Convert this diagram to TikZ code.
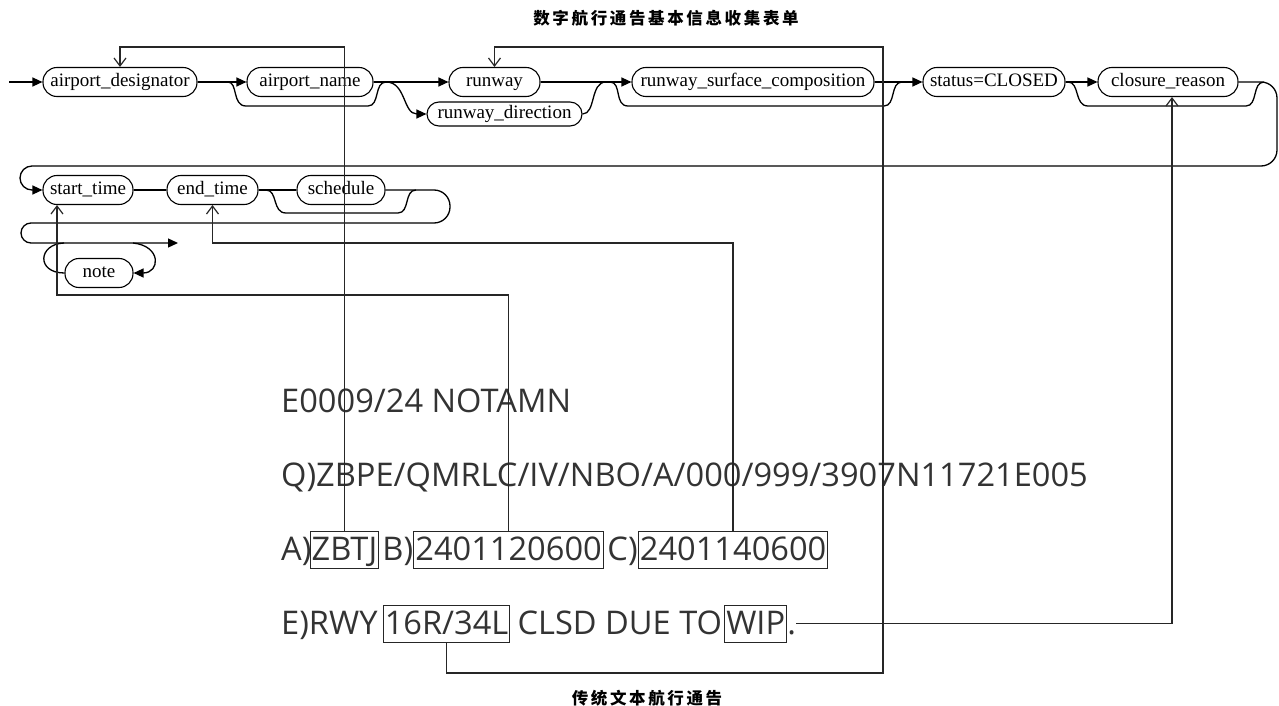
\documentclass[tikz,border=0pt]{standalone}
\usepackage{fontspec}
\setmainfont{Liberation Serif}
\newfontfamily\notamfont{Open Sans}
\newfontfamily\cjk[LetterSpace=16]{Noto Sans CJK SC}
\usetikzlibrary{arrows.meta,positioning,calc}

\tikzset{
  term/.style={draw, line width=1.1pt, rounded corners=14pt, minimum height=29pt,
    inner sep=0pt, font=\fontsize{19}{21}\selectfont, text height=13pt, text depth=4pt},
  rail/.style={line width=1.3pt},
  go/.style={rail, -{Triangle[length=10pt,width=9pt]}},
  link/.style={line width=1.2pt, draw=black!85, -{Straight Barb[length=8pt,width=12pt]}},
  notam/.style={inner sep=0pt, font=\notamfont\fontsize{32.6}{36}\selectfont, text=black!80,
    text height=29pt, text depth=8pt},
  hit/.style={notam, draw=black!85, line width=1pt, inner xsep=1.5pt},
  title/.style={font=\cjk\bfseries\fontsize{16.5}{17}\selectfont},
}

\begin{document}
\begin{tikzpicture}[x=1pt,y=-1pt]
  \useasboundingbox (0,0) rectangle (1279,706);

  % form titles
  \node[title] (form) at (666,18) {数字航行通告基本信息收集表单};
  \node[title] (text) at (647,698) {传统文本航行通告};

  % first row of the form
  \node[term, minimum width=154pt] (ad) at (120,82) {airport\_designator};
  \node[term, minimum width=126pt] (an) at (310,82) {airport\_name};
  \node[term, minimum width=91pt] (rw) at (494.5,82) {runway};
  \node[term, minimum width=155pt, minimum height=24pt, rounded corners=12pt] (rd) at (504.5,114) {runway\_direction};
  \node[term, minimum width=242pt] (rsc) at (753,82) {runway\_surface\_composition};
  \node[term, minimum width=142pt] (st) at (994,82) {status=CLOSED};
  \node[term, minimum width=140pt] (cr) at (1168,82) {closure\_reason};

  % second row
  \node[term, minimum width=90pt] (start) at (88,190) {start\_time};
  \node[term, minimum width=91pt] (end) at (212.5,190) {end\_time};
  \node[term, minimum width=88pt] (sched) at (341,190) {schedule};
  \node[term, minimum width=68pt] (note) at (99,273) {note};

  \coordinate (in) at (9,82);
  \coordinate (out) at (178,243);

  % rails, row 1
  \draw[go] (in) -- (ad.west);
  \draw[go] (ad.east) -- (an.west);
  \draw[rail] (228,82) .. controls (238,82) and (232,106) .. (246,106) -- (368,106)
    .. controls (380,106) and (374,82) .. (386,82);
  \draw[go] (an.east) -- (rw.west);
  \draw[go] (386,82) .. controls (406,82) and (403,114) .. (rd.west);
  \draw[go] (rw.east) -- (rsc.west);
  \draw[rail] (rd.east) .. controls (596,114) and (590,82) .. (606,82);
  \draw[rail] (610,82) .. controls (622,82) and (614,106) .. (628,106) -- (884,106)
    .. controls (896,106) and (890,82) .. (902,82);
  \draw[go] (rsc.east) -- (st.west);
  \draw[go] (st.east) -- (cr.west);
  \draw[rail] (1068,82) .. controls (1080,82) and (1074,106) .. (1088,106) -- (1246,106)
    .. controls (1258,106) and (1252,82) .. (1264,82);
  \draw[go, rounded corners=16pt] (cr.east) -- (1277,82) -- (1277,166)
    [rounded corners=12pt] -- (20,166) -- (20,190) -- (start.west);

  % rails, row 2
  \draw[rail] (start.east) -- (end.west);
  \draw[rail] (end.east) -- (sched.west);
  \draw[rail] (266,190) .. controls (278,190) and (272,213) .. (286,213) -- (398,213)
    .. controls (410,213) and (404,190) .. (416,190);
  \draw[go, rounded corners=16pt] (sched.east) -- (450,190) -- (450,223)
    [rounded corners=10pt] -- (21,223) -- (21,243) -- (out);
  \draw[go] (133,243) .. controls (162,246) and (160,273) .. (note.east);
  \draw[rail] (note.west) .. controls (36,273) and (38,244) .. (64,243);

  % the NOTAM text
  \node[notam, anchor=base west] (l1) at (281,412) {E0009/24 NOTAMN};
  \node[notam, anchor=base west] (l2) at (281,486) {Q)ZBPE/QMRLC/IV/NBO/A/000/999/3907N11721E005};
  \node[notam, anchor=base west] (a0) at (281,560) {A)};
  \node[hit, anchor=base west] (zbtj) at ([xshift=-2pt]a0.base east) {ZBTJ};
  \node[notam, anchor=base west] (b0) at ([xshift=3pt]zbtj.base east) {B)};
  \node[hit, anchor=base west] (bt) at (b0.base east) {2401120600};
  \node[notam, anchor=base west] (c0) at ([xshift=3.5pt]bt.base east) {C)};
  \node[hit, anchor=base west] (ct) at (c0.base east) {2401140600};
  \node[notam, anchor=base west] (e0) at (281,634) {E)RWY};
  \node[hit, anchor=base west] (rwy) at ([xshift=5pt]e0.base east) {16R/34L};
  \node[notam, anchor=base west] (e1) at ([xshift=7pt]rwy.base east) {CLSD DUE TO};
  \node[hit, anchor=base west] (wip) at ([xshift=2pt]e1.base east) {WIP};
  \node[notam, anchor=base west] (dot) at (wip.base east) {.};

  % links from the text to the form
  \coordinate (top) at (0,47);
  \coordinate (bot) at (0,673);
  \coordinate (col) at (883,0);
  \coordinate (low1) at (0,295);
  \coordinate (low2) at (0,243);
  \draw[link] (zbtj.north) -- (zbtj.north |- top) -| (ad.north);
  \draw[link] (bt.north) -- (bt.north |- low1) -| ([xshift=-31pt]start.south);
  \draw[link] (ct.north) -- (ct.north |- low2) -| (end.south);
  \draw[link] (rwy.south) |- (col |- bot) -- (col |- top) -| (rw.north);
  \draw[link] (dot.east |- wip.east) -| ([xshift=4pt]cr.south);
\end{tikzpicture}
\end{document}
